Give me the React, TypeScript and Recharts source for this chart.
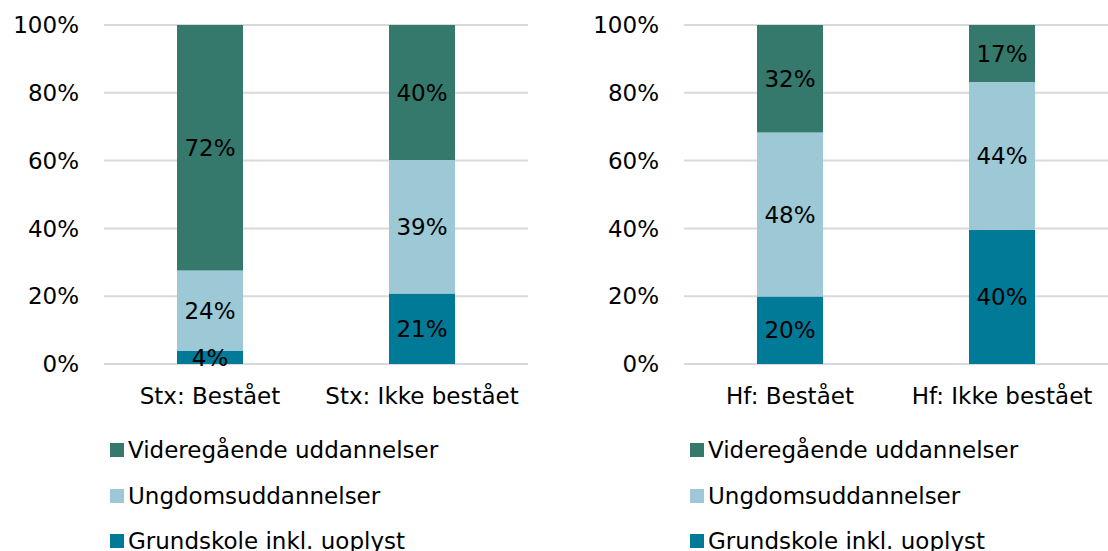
import { BarChart, Bar, XAxis, YAxis, CartesianGrid, Legend, LabelList } from "recharts";

const stxCategories = ["Stx: Bestået", "Stx: Ikke bestået"];
const stxGrundskole = [3.8, 20.8];
const stxUngdom = [23.8, 39.4];
const stxVideregaaende = [72.4, 39.8];

const hfCategories = ["Hf: Bestået", "Hf: Ikke bestået"];
const hfGrundskole = [19.9, 39.6];
const hfUngdom = [48.4, 43.6];
const hfVideregaaende = [31.7, 16.8];

const yTicks = [0, 20, 40, 60, 80, 100];

// bottom to top in the stack
const series = [
	{ key: "grundskole", name: "Grundskole inkl. uoplyst", color: "#007A96" },
	{ key: "ungdom", name: "Ungdomsuddannelser", color: "#9CC9D5" },
	{ key: "videre", name: "Videregående uddannelser", color: "#34796C" },
];

const FONT = "'DejaVu Sans', Verdana, sans-serif";
const FS = 23;

const buildRows = (cats: string[], g: number[], u: number[], v: number[]) =>
	cats.map((name, i) => ({ name, grundskole: g[i], ungdom: u[i], videre: v[i] }));

const renderLegend = () => (
	<div style={{ paddingLeft: 110, fontFamily: FONT, fontSize: FS, color: "#000" }}>
		{[...series].reverse().map((s) => (
			<div key={s.key} style={{ display: "flex", alignItems: "center", height: 45.5 }}>
				<span style={{ width: 14, height: 14, background: s.color, marginRight: 4, display: "inline-block" }} />
				<span>{s.name}</span>
			</div>
		))}
	</div>
);

const StackPanel = ({ data }: { data: any[] }) => (
	<BarChart
		width={528}
		height={564}
		data={data}
		margin={{ top: 25, right: 0, left: 0, bottom: 0 }}
		style={{ fontFamily: FONT }}>
		<CartesianGrid vertical={false} stroke="#d9d9d9" strokeWidth={2} />
		<XAxis
			dataKey="name"
			axisLine={false}
			tickLine={false}
			tickSize={0}
			tickMargin={24}
			height={63.5}
			interval={0}
			tick={{ fill: "#000", fontSize: FS }}
		/>
		<YAxis
			domain={[0, 100]}
			ticks={yTicks}
			axisLine={false}
			tickLine={false}
			tickSize={0}
			tickMargin={25}
			width={104}
			tickFormatter={(v) => `${v}%`}
			tick={{ fill: "#000", fontSize: FS }}
		/>
		<Legend verticalAlign="bottom" align="left" layout="horizontal" content={renderLegend} />
		{series.map((s) => (
			<Bar key={s.key} dataKey={s.key} name={s.name} stackId="a" fill={s.color} barSize={66} isAnimationActive={false}>
				<LabelList
					dataKey={s.key}
					position="center"
					fill="#000"
					fontSize={FS}
					formatter={(v: any) => `${Math.round(Number(v))}%`}
				/>
			</Bar>
		))}
	</BarChart>
);

export default function App() {
	return (
		<div
			style={{
				position: "absolute",
				left: 0,
				top: 0,
				width: 1108,
				height: 551,
				overflow: "hidden",
				background: "#fff",
				fontFamily: FONT,
			}}>
			<div style={{ position: "absolute", left: 0, top: 0 }}>
				<StackPanel data={buildRows(stxCategories, stxGrundskole, stxUngdom, stxVideregaaende)} />
			</div>
			<div style={{ position: "absolute", left: 580, top: 0 }}>
				<StackPanel data={buildRows(hfCategories, hfGrundskole, hfUngdom, hfVideregaaende)} />
			</div>
		</div>
	);
}
